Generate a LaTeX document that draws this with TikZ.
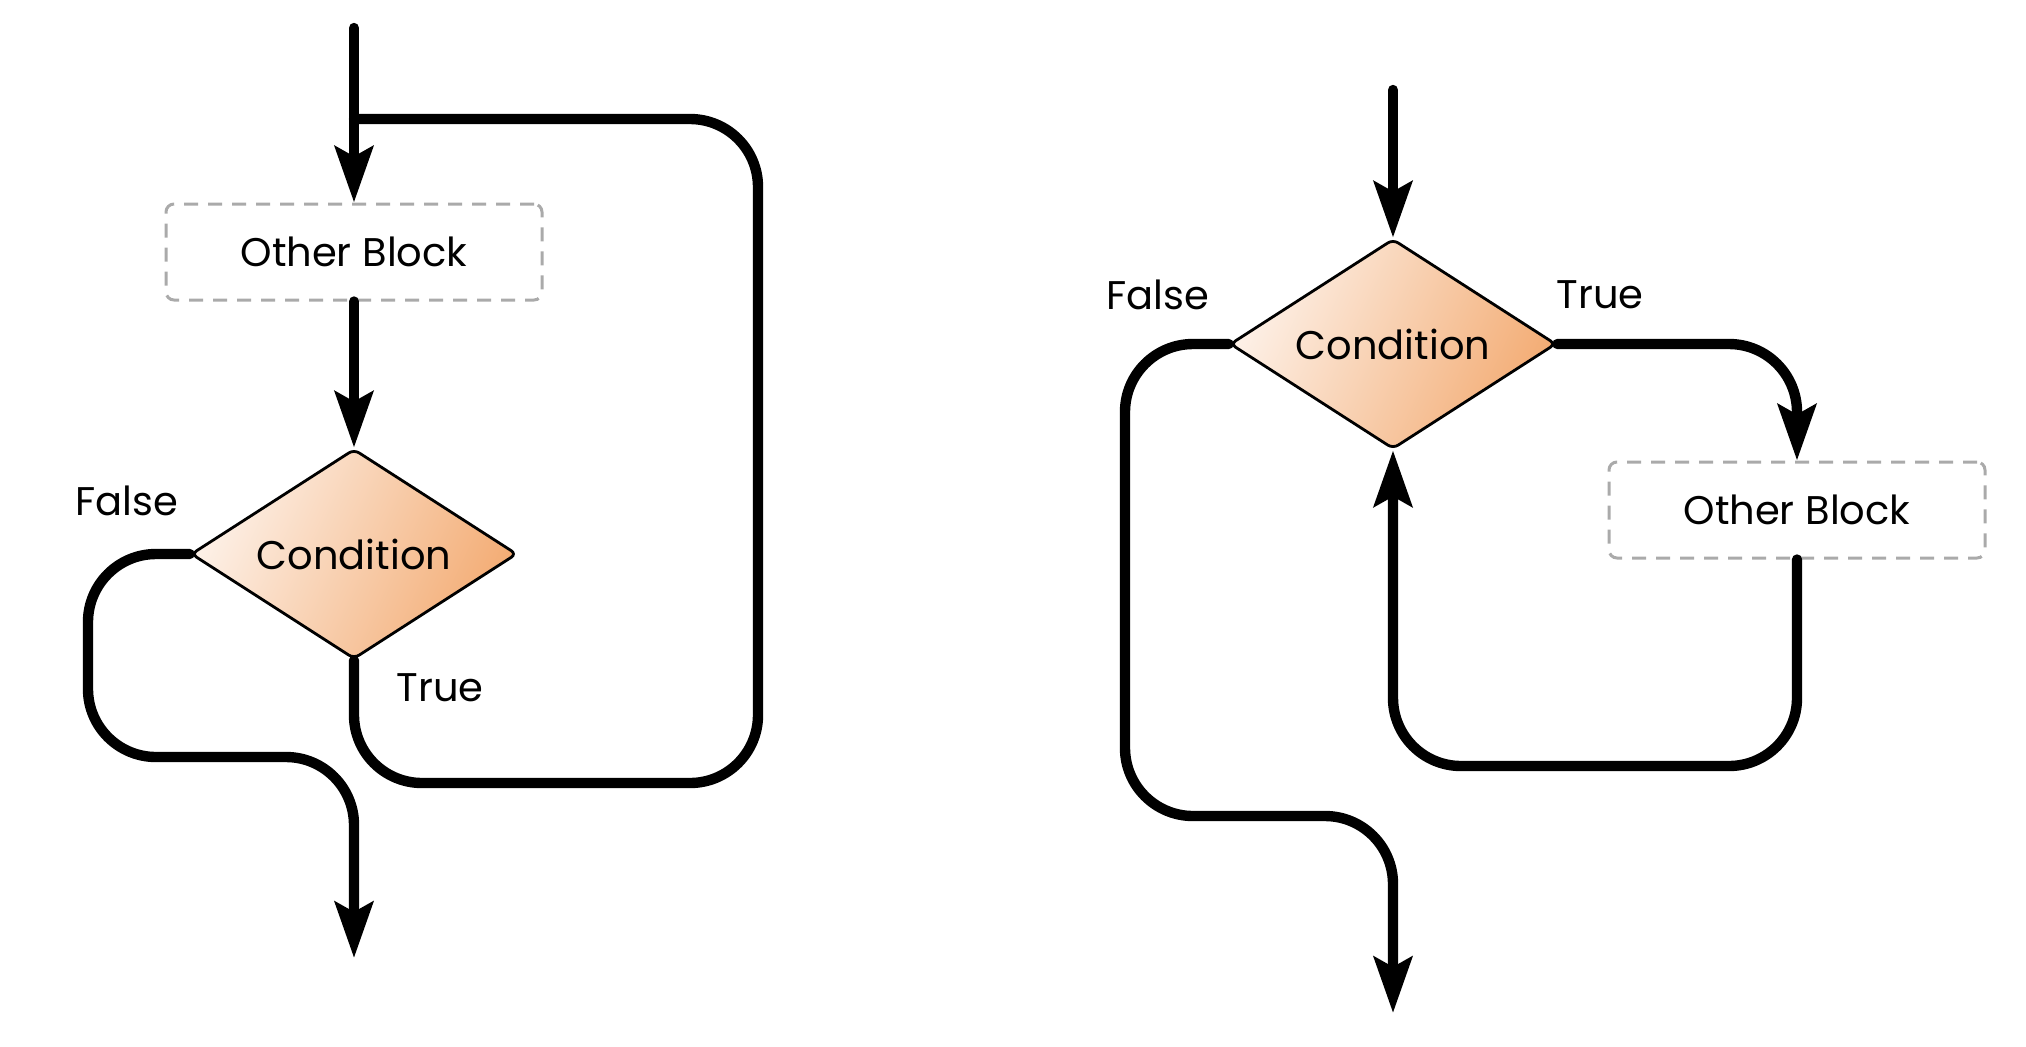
\documentclass[tikz,border=0pt]{standalone}
\usepackage{fontspec}
\setmainfont{Poppins}
\usetikzlibrary{shapes.geometric,arrows.meta}
\definecolor{dashgray}{HTML}{AAAAAA}
\definecolor{orlight}{HTML}{FDF1E8}
\definecolor{ordark}{HTML}{F3AC74}
\tikzset{
  flow/.style={line width=5.2pt, rounded corners=34pt, line cap=round},
  tip/.style={-{Stealth[length=28pt,width=19pt,inset=5pt]}},
  block/.style={draw=dashgray, line width=1.5pt, dash pattern=on 7pt off 5pt,
    rounded corners=4pt, minimum width=188pt, minimum height=48pt, inner sep=0pt,
    font=\fontsize{20}{22}\selectfont},
  cond/.style={diamond, draw=black, line width=1.4pt, rounded corners=3pt,
    minimum width=163pt, minimum height=105pt, aspect=1.55, inner sep=0pt,
    left color=orlight, right color=ordark, shading angle=65,
    font=\fontsize{20}{22}\selectfont},
  lbl/.style={font=\fontsize{20}{22}\selectfont, inner sep=0pt}
}
\begin{document}
\begin{tikzpicture}[x=0.5pt,y=-0.5pt]
\useasboundingbox (0,0) rectangle (2026,1046);
% ---------- left diagram ----------
\coordinate (s1) at (354,28);
\node[block] (b1) at (354,252) {Other Block};
\node[cond] (c1) at (354,554) {Condition};
\coordinate (j1) at (354,119);
\coordinate (l1a) at (758,119);
\coordinate (l1b) at (758,783);
\coordinate (l1c) at (354,783);
\coordinate (f1a) at (88,554);
\coordinate (f1b) at (88,757);
\coordinate (f1c) at (354,757);
\coordinate (e1) at (354,958);
\draw[flow,tip] (s1) -- (b1.north);
\draw[flow,tip] (b1.south) -- (c1.north);
\draw[flow] (c1.south) -- (l1c) -- (l1b) -- (l1a) -- (j1);
\draw[flow,tip] (c1.west) -- (f1a) -- (f1b) -- (f1c) -- (e1);
\node[lbl] (fl1) at (127,501) {False};
\node[lbl] (tl1) at (440,688) {True};
% ---------- right diagram ----------
\coordinate (s2) at (1393,90);
\node[cond] (c2) at (1393,344) {Condition};
\node[block] (b2) at (1797,510) {Other Block};
\coordinate (t2a) at (1797,344);
\coordinate (r2a) at (1797,766);
\coordinate (r2b) at (1393,766);
\coordinate (f2a) at (1125,344);
\coordinate (f2b) at (1125,816);
\coordinate (f2c) at (1393,816);
\coordinate (e2) at (1393,1013);
\draw[flow,tip] (s2) -- (c2.north);
\draw[flow,tip] (c2.east) -- (t2a) -- (b2.north);
\draw[flow,tip] (b2.south) -- (r2a) -- (r2b) -- (c2.south);
\draw[flow,tip] (c2.west) -- (f2a) -- (f2b) -- (f2c) -- (e2);
\node[lbl] (fl2) at (1158,295) {False};
\node[lbl] (tl2) at (1600,295) {True};
\end{tikzpicture}
\end{document}
